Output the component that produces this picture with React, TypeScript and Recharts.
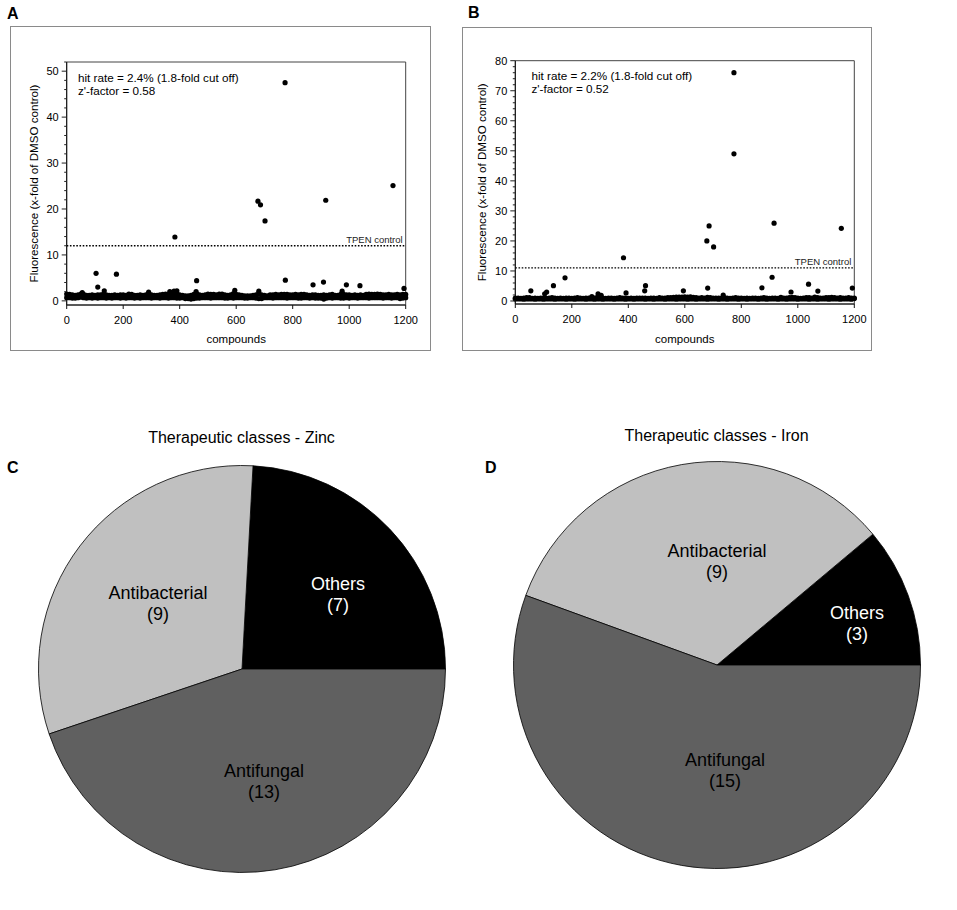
import { ScatterChart, Scatter, XAxis, YAxis, ReferenceLine, ReferenceArea, PieChart, Pie, Cell } from 'recharts';

const FONT = '"Liberation Sans", Arial, sans-serif';

// panel A / B outliers
const zincHitX = [55, 104, 110, 133, 176, 290, 365, 380, 383, 390, 458, 460, 595, 677, 680, 686, 702, 773, 774, 872, 909, 917, 975, 990, 1038, 1155, 1194];
const zincHitY = [1.8, 6.0, 3.0, 2.2, 5.8, 1.9, 2.0, 2.1, 13.9, 2.2, 2.0, 4.4, 2.3, 21.7, 2.1, 20.9, 17.4, 47.5, 4.5, 3.5, 4.1, 21.9, 2.1, 3.5, 3.3, 25.1, 2.7];
const ironHitX = [55, 104, 111, 135, 176, 271, 293, 304, 383, 392, 458, 461, 595, 678, 681, 686, 702, 736, 774, 774, 873, 909, 916, 976, 1038, 1071, 1154, 1193];
const ironHitY = [3.4, 2.4, 3.0, 5.1, 7.7, 1.5, 2.4, 1.9, 14.4, 2.7, 3.4, 5.1, 3.4, 20, 4.3, 25, 18, 2.0, 76, 49, 4.4, 7.9, 25.9, 3.0, 5.6, 3.3, 24.2, 4.3];

// the dense band of inactive compounds, sampled every 10 compounds
const bandX = [
  0, 10, 20, 30, 40, 50, 60, 70, 80, 90, 100, 110, 120, 130, 140, 150, 160, 170, 180, 190,
  200, 210, 220, 230, 240, 250, 260, 270, 280, 290, 300, 310, 320, 330, 340, 350, 360, 370, 380, 390,
  400, 410, 420, 430, 440, 450, 460, 470, 480, 490, 500, 510, 520, 530, 540, 550, 560, 570, 580, 590,
  600, 610, 620, 630, 640, 650, 660, 670, 680, 690, 700, 710, 720, 730, 740, 750, 760, 770, 780, 790,
  800, 810, 820, 830, 840, 850, 860, 870, 880, 890, 900, 910, 920, 930, 940, 950, 960, 970, 980, 990,
  1000, 1010, 1020, 1030, 1040, 1050, 1060, 1070, 1080, 1090, 1100, 1110, 1120, 1130, 1140, 1150, 1160, 1170, 1180, 1190,
  1200,
];
const zincBandUpper = [
  1.5, 1.4, 1.3, 1.2, 1.3, 1.5, 1.4, 1.2, 1.2, 1.3, 1.2, 1.3, 1.3, 1.5, 1.3, 1.2, 1.2, 1.3, 1.2, 1.3,
  1.3, 1.2, 1.5, 1.4, 1.2, 1.2, 1.3, 1.2, 1.3, 1.6, 1.3, 1.2, 1.2, 1.3, 1.4, 1.5, 1.5, 1.4, 1.5, 1.6,
  1.3, 1.2, 1.1, 1.1, 1.2, 1.4, 1.6, 1.3, 1.2, 1.3, 1.5, 1.4, 1.4, 1.3, 1.5, 1.5, 1.3, 1.2, 1.3, 1.6,
  1.4, 1.3, 1.2, 1.1, 1.1, 1.1, 1.2, 1.3, 1.6, 1.3, 1.2, 1.1, 1.3, 1.3, 1.4, 1.3, 1.4, 1.4, 1.4, 1.3,
  1.3, 1.4, 1.3, 1.4, 1.4, 1.3, 1.2, 1.3, 1.3, 1.2, 1.2, 1.3, 1.2, 1.3, 1.4, 1.2, 1.2, 1.4, 1.4, 1.3,
  1.3, 1.2, 1.3, 1.2, 1.3, 1.2, 1.4, 1.5, 1.4, 1.4, 1.5, 1.4, 1.3, 1.3, 1.4, 1.3, 1.3, 1.4, 1.3, 1.4,
  1.4,
];
const zincBandLower = [
  0.7, 0.7, 0.6, 0.6, 0.7, 0.8, 0.7, 0.6, 0.7, 0.6, 0.7, 0.6, 0.7, 0.7, 0.6, 0.7, 0.6, 0.7, 0.7, 0.6,
  0.7, 0.6, 0.7, 0.7, 0.6, 0.7, 0.6, 0.7, 0.7, 0.7, 0.6, 0.7, 0.7, 0.6, 0.7, 0.7, 0.6, 0.7, 0.7, 0.6,
  0.6, 0.7, 0.5, 0.5, 0.4, 0.5, 0.6, 0.6, 0.7, 0.7, 0.7, 0.6, 0.7, 0.7, 0.7, 0.7, 0.6, 0.6, 0.7, 0.6,
  0.7, 0.7, 0.7, 0.6, 0.6, 0.7, 0.7, 0.6, 0.5, 0.5, 0.7, 0.7, 0.7, 0.6, 0.7, 0.7, 0.7, 0.7, 0.6, 0.7,
  0.7, 0.7, 0.6, 0.6, 0.7, 0.7, 0.6, 0.7, 0.6, 0.6, 0.6, 0.4, 0.6, 0.7, 0.6, 0.7, 0.7, 0.6, 0.6, 0.7,
  0.6, 0.7, 0.7, 0.6, 0.7, 0.7, 0.7, 0.6, 0.7, 0.7, 0.7, 0.7, 0.6, 0.7, 0.7, 0.6, 0.7, 0.7, 0.5, 0.6,
  0.7,
];
const ironBandUpper = [
  1.0, 1.0, 0.9, 1.0, 1.1, 1.1, 0.9, 1.0, 0.9, 1.0, 1.0, 0.9, 1.0, 1.1, 1.0, 0.9, 1.0, 0.9, 1.0, 1.0,
  0.9, 1.0, 1.1, 1.0, 0.9, 1.0, 1.0, 1.1, 1.0, 1.2, 1.1, 1.0, 0.9, 1.0, 1.0, 0.9, 1.0, 1.1, 1.0, 1.0,
  0.9, 1.0, 0.9, 1.0, 1.0, 1.0, 1.0, 0.9, 1.0, 1.0, 0.9, 1.1, 1.0, 1.0, 1.1, 1.1, 1.2, 1.3, 1.3, 1.3,
  1.4, 1.3, 1.4, 1.2, 1.1, 1.0, 1.1, 1.0, 1.2, 1.1, 1.0, 1.0, 1.0, 1.0, 1.1, 1.0, 0.9, 1.0, 1.1, 1.0,
  1.0, 0.9, 1.0, 0.9, 1.0, 1.0, 0.9, 1.0, 1.1, 1.0, 0.9, 1.0, 1.0, 0.9, 1.2, 1.0, 1.0, 1.1, 1.2, 1.1,
  1.0, 0.9, 1.0, 1.1, 1.1, 1.0, 1.3, 1.1, 1.0, 1.0, 1.1, 1.1, 1.2, 1.1, 1.0, 1.1, 1.0, 1.0, 1.1, 1.0,
  1.0,
];
const ironBandLower = [
  0.7, 0.7, 0.7, 0.6, 0.7, 0.7, 0.7, 0.6, 0.7, 0.7, 0.6, 0.7, 0.7, 0.7, 0.6, 0.7, 0.7, 0.7, 0.6, 0.7,
  0.7, 0.6, 0.7, 0.7, 0.7, 0.6, 0.7, 0.7, 0.6, 0.7, 0.7, 0.6, 0.7, 0.7, 0.7, 0.6, 0.7, 0.7, 0.7, 0.6,
  0.7, 0.7, 0.6, 0.7, 0.7, 0.7, 0.6, 0.7, 0.7, 0.6, 0.7, 0.7, 0.7, 0.6, 0.7, 0.7, 0.7, 0.6, 0.7, 0.7,
  0.7, 0.6, 0.7, 0.7, 0.6, 0.7, 0.7, 0.7, 0.6, 0.7, 0.7, 0.7, 0.6, 0.7, 0.7, 0.6, 0.7, 0.7, 0.7, 0.6,
  0.7, 0.7, 0.6, 0.7, 0.7, 0.7, 0.6, 0.7, 0.7, 0.6, 0.7, 0.7, 0.7, 0.6, 0.7, 0.7, 0.6, 0.7, 0.7, 0.7,
  0.6, 0.7, 0.7, 0.7, 0.6, 0.7, 0.7, 0.6, 0.7, 0.7, 0.7, 0.6, 0.7, 0.7, 0.7, 0.6, 0.7, 0.7, 0.7, 0.6,
  0.8,
];

const xTicks = [0, 200, 400, 600, 800, 1000, 1200];
const zincYMajor = [0, 10, 20, 30, 40, 50];
const zincYTicks = [0, 2, 4, 6, 8, 10, 12, 14, 16, 18, 20, 22, 24, 26, 28, 30, 32, 34, 36, 38, 40, 42, 44, 46, 48, 50, 52];
const ironYMajor = [0, 10, 20, 30, 40, 50, 60, 70, 80];
const ironYTicks = [0, 2, 4, 6, 8, 10, 12, 14, 16, 18, 20, 22, 24, 26, 28, 30, 32, 34, 36, 38, 40, 42, 44, 46, 48, 50, 52, 54, 56, 58, 60, 62, 64, 66, 68, 70, 72, 74, 76, 78, 80];

const pieNames = ['Others', 'Antibacterial', 'Antifungal'];
const zincClassCounts = [7, 9, 13];
const ironClassCounts = [3, 9, 15];
const pieColors = ['#000000', '#c0c0c0', '#606060'];
const pieTextColors = ['#ffffff', '#000000', '#000000'];
// label centres relative to the pie centre, same order as pieNames
const zincLabelOffsets = [[96, -75], [-84, -66], [22, 112]];
const ironLabelOffsets = [[140, -42], [0, -104], [8, 105]];

const toPoints = (xs: number[], ys: number[]) => xs.map((x, i) => ({ x, y: ys[i] }));

const Dot = (props: any) => <circle cx={props.cx} cy={props.cy} r={2.6} fill="#000" />;

function YTick({ x, y, payload, major }: any) {
  const isMajor = major.includes(payload.value);
  return (
    <g>
      <line x1={x + (isMajor ? 3 : 5.5)} x2={x + 8} y1={y} y2={y} stroke="#222" strokeWidth={1} />
      {isMajor && (
        <text x={x} y={y + 4} textAnchor="end" fontSize={11} fontFamily={FONT} fill="#000">
          {payload.value}
        </text>
      )}
    </g>
  );
}

interface ScatterPanelProps {
  left: number;
  top: number;
  width: number;
  height: number;
  plotLeft: number;
  plotTop: number;
  plotWidth: number;
  plotBottom: number;
  yDomain: number[];
  yTicks: number[];
  yMajor: number[];
  hits: { x: number; y: number }[];
  upper: { x: number; y: number }[];
  lower: { x: number; y: number }[];
  control: number;
  lines: string[];
  textLeft: number;
  textTop: number;
}

function ScatterPanel(p: ScatterPanelProps) {
  return (
    <div
      style={{
        position: 'absolute',
        left: p.left,
        top: p.top,
        width: p.width,
        height: p.height,
        boxSizing: 'border-box',
        border: '1px solid #8a8a8a',
      }}
    >
      <ScatterChart
        width={p.width - 2}
        height={p.height - 2}
        margin={{
          top: p.plotTop - p.top - 1,
          left: p.plotLeft - p.left - 1 - 50,
          right: p.width - 1 - (p.plotLeft - p.left + p.plotWidth),
          bottom: 0,
        }}
      >
        <XAxis
          type="number"
          dataKey="x"
          domain={[0, 1200]}
          ticks={xTicks}
          interval={0}
          height={p.top + p.height - 1 - p.plotBottom}
          tickSize={4}
          tickMargin={7}
          stroke="#111"
          tick={{ fill: '#000', fontSize: 11, fontFamily: FONT }}
          label={{ value: 'compounds', position: 'insideBottom', offset: 7, fill: '#000', fontSize: 11.5, fontFamily: FONT }}
        />
        <YAxis
          type="number"
          dataKey="y"
          width={50}
          domain={p.yDomain}
          ticks={p.yTicks}
          interval={0}
          tickLine={false}
          stroke="#111"
          tick={<YTick major={p.yMajor} />}
          label={{
            value: 'Fluorescence (x-fold of DMSO control)',
            angle: -90,
            position: 'insideLeft',
            offset: 17,
            textAnchor: 'middle',
            fill: '#000',
            fontSize: 11.6,
            fontFamily: FONT,
          }}
        />
        <ReferenceArea
          x1={0}
          x2={1200}
          y1={p.yDomain[0]}
          y2={p.yDomain[1]}
          fill="none"
          stroke="#444"
          strokeWidth={1}
          ifOverflow="visible"
        />
        <ReferenceLine
          y={p.control}
          stroke="#000"
          strokeWidth={1.3}
          strokeDasharray="1.6 1.6"
          label={{ value: 'TPEN control', position: 'insideBottomRight', offset: 3, fill: '#222', fontSize: 9.5, fontFamily: FONT }}
        />
        <Scatter data={p.lower} shape={Dot} isAnimationActive={false} />
        <Scatter data={p.upper} shape={Dot} isAnimationActive={false} />
        <Scatter data={p.hits} shape={Dot} isAnimationActive={false} />
      </ScatterChart>
      <div
        style={{
          position: 'absolute',
          left: p.textLeft - p.left - 1,
          top: p.textTop - p.top - 1,
          fontFamily: FONT,
          fontSize: 11.7,
          lineHeight: '13px',
          color: '#000',
          whiteSpace: 'nowrap',
        }}
      >
        {p.lines.map((line) => (
          <div key={line}>{line}</div>
        ))}
      </div>
    </div>
  );
}

interface ClassPieProps {
  centerX: number;
  centerY: number;
  counts: number[];
  offsets: number[][];
  title: string;
  titleTop: number;
}

function ClassPie({ centerX, centerY, counts, offsets, title, titleTop }: ClassPieProps) {
  const radius = 203.5;
  const size = 420;
  const data = pieNames.map((name, i) => ({ name, value: counts[i] }));
  const renderLabel = (props: any) => {
    const i = props.index;
    const x = size / 2 + offsets[i][0];
    const y = size / 2 + offsets[i][1];
    return (
      <text textAnchor="middle" fontSize={18} fontFamily={FONT} fill={pieTextColors[i]}>
        <tspan x={x} y={y - 4}>{pieNames[i]}</tspan>
        <tspan x={x} y={y + 17}>({counts[i]})</tspan>
      </text>
    );
  };
  return (
    <>
      <div
        style={{
          position: 'absolute',
          left: centerX - 150,
          top: titleTop,
          width: 300,
          textAlign: 'center',
          fontFamily: FONT,
          fontSize: 16,
          color: '#000',
        }}
      >
        {title}
      </div>
      <div style={{ position: 'absolute', left: centerX - size / 2, top: centerY - size / 2 }}>
        <PieChart width={size} height={size} margin={{ top: 0, right: 0, bottom: 0, left: 0 }}>
          <Pie
            data={data}
            dataKey="value"
            cx={size / 2}
            cy={size / 2}
            outerRadius={radius}
            startAngle={0}
            endAngle={360}
            stroke="#000"
            strokeWidth={0.8}
            label={renderLabel}
            labelLine={false}
            isAnimationActive={false}
          >
            {data.map((d, i) => (
              <Cell key={d.name} fill={pieColors[i]} />
            ))}
          </Pie>
        </PieChart>
      </div>
    </>
  );
}

const letterStyle = (left: number, top: number) => ({
  position: 'absolute' as const,
  left,
  top,
  fontFamily: FONT,
  fontWeight: 700,
  fontSize: 16,
  lineHeight: '18px',
  color: '#000',
});

export default function App() {
  return (
    <div style={{ position: 'absolute', left: 0, top: 0, width: 957, height: 910, background: '#fff' }}>
      <div style={letterStyle(7, 5)}>A</div>
      <div style={letterStyle(468, 4)}>B</div>
      <div style={letterStyle(7, 459)}>C</div>
      <div style={letterStyle(485, 459)}>D</div>
      <ScatterPanel
        left={10}
        top={26}
        width={421}
        height={325}
        plotLeft={66.7}
        plotTop={62}
        plotWidth={339}
        plotBottom={305}
        yDomain={[-0.9, 52]}
        yTicks={zincYTicks}
        yMajor={zincYMajor}
        hits={toPoints(zincHitX, zincHitY)}
        upper={toPoints(bandX, zincBandUpper)}
        lower={toPoints(bandX, zincBandLower)}
        control={12}
        lines={['hit rate = 2.4% (1.8-fold cut off)', "z'-factor = 0.58"]}
        textLeft={78}
        textTop={71}
      />
      <ScatterPanel
        left={462}
        top={27}
        width={410}
        height={324}
        plotLeft={515.3}
        plotTop={60.7}
        plotWidth={339}
        plotBottom={304}
        yDomain={[-1, 80]}
        yTicks={ironYTicks}
        yMajor={ironYMajor}
        hits={toPoints(ironHitX, ironHitY)}
        upper={toPoints(bandX, ironBandUpper)}
        lower={toPoints(bandX, ironBandLower)}
        control={11}
        lines={['hit rate = 2.2% (1.8-fold cut off)', "z'-factor = 0.52"]}
        textLeft={531.5}
        textTop={69}
      />
      <ClassPie
        centerX={241.5}
        centerY={669}
        counts={zincClassCounts}
        offsets={zincLabelOffsets}
        title="Therapeutic classes - Zinc"
        titleTop={429}
      />
      <ClassPie
        centerX={716.5}
        centerY={665}
        counts={ironClassCounts}
        offsets={ironLabelOffsets}
        title="Therapeutic classes - Iron"
        titleTop={427}
      />
    </div>
  );
}
